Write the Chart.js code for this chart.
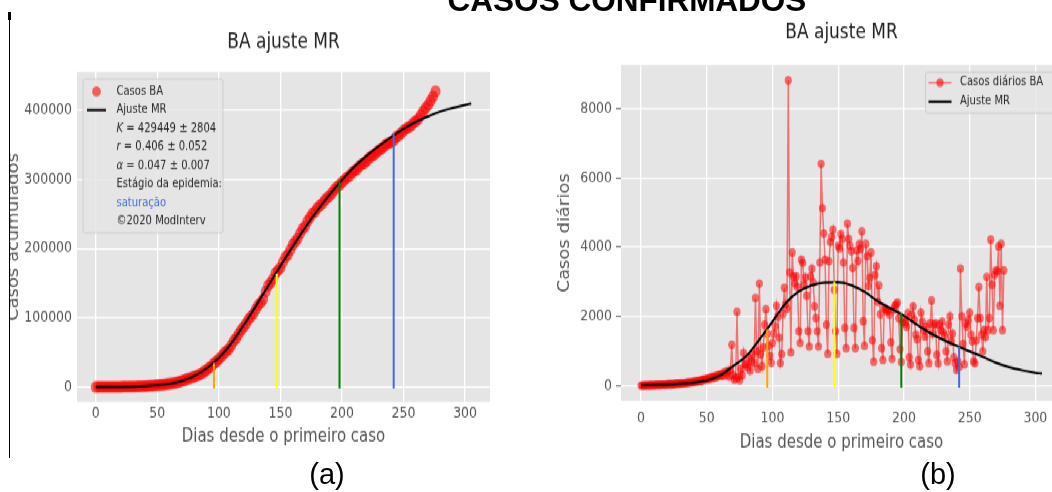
<!DOCTYPE html>
<html>
<head>
<meta charset="utf-8">
<script src="https://cdn.jsdelivr.net/npm/chart.js@4.4.1/dist/chart.umd.min.js"></script>
<style>
  html, body { margin: 0; padding: 0; background: #fff; overflow: hidden; }
  body { width: 1052px; height: 492px; position: relative; }
  /* the source figure is stretched vertically, so the charts are drawn 410px tall and scaled */
  #stage { position: absolute; left: 0; top: 0; width: 1052px; height: 410px; transform: scaleY(1.2); transform-origin: 0 0; }
  #stage canvas { position: absolute; top: 0; }
  #chartA { left: 0; }
  #chartB { left: 530px; }
  .doc { position: absolute; font-family: 'Liberation Sans', Arial, sans-serif; color: #000; white-space: nowrap; transform: translateX(-50%); }
  #heading { left: 627px; top: -15px; font-size: 31.5px; line-height: 31.5px; font-weight: bold; }
  .cap { top: 460px; font-size: 29px; line-height: 29px; }
  #mask { position: absolute; left: 0; top: 0; width: 9px; height: 492px; background: #fff; }
  #rule { position: absolute; left: 9px; top: 12px; width: 1px; height: 446px; background: #000; }
  #ruleTop { position: absolute; left: 8px; top: 12px; width: 3px; height: 8px; background: #000; }
</style>
</head>
<body>
<div id="stage">
  <canvas id="chartA" width="520" height="410"></canvas>
  <canvas id="chartB" width="540" height="410"></canvas>
</div>
<div id="mask"></div>
<div id="rule"></div>
<div id="ruleTop"></div>
<div id="heading" class="doc">CASOS CONFIRMADOS</div>
<div class="doc cap" style="left:327px">(a)</div>
<div class="doc cap" style="left:938px">(b)</div>

<script>
Chart.defaults.font.family = "'DejaVu Sans', sans-serif";
Chart.defaults.color = '#555';
Chart.defaults.animation = false;

// ---- data ----
const xTicks = [0, 50, 100, 150, 200, 250, 300];
const yTicksA = [0, 100000, 200000, 300000, 400000];
const yTicksB = [0, 2000, 4000, 6000, 8000];

// accumulated cases, one reading every 2 days (day 0 .. 276)
const cumStep = 2;
const cumCases = [
    1, 5, 20, 40, 70, 110, 150, 190, 230, 270,
    320, 380, 440, 510, 590, 690, 790, 900, 1030, 1200,
    1400, 1600, 1850, 2100, 2350, 2650, 3000, 3400, 3800, 4250,
    4750, 5300, 5900, 6600, 7400, 8800, 9500, 11800, 12400, 13500,
    15200, 16300, 17800, 19200, 22500, 24500, 28000, 30200, 34500, 36800,
    40500, 44000, 48500, 51500, 54500, 60000, 66500, 70500, 76500, 82000,
    86500, 91500, 97500, 101500, 106000, 112500, 118500, 122000, 127000, 138000,
    146500, 150500, 156000, 164500, 168500, 172000, 180500, 187500, 191000, 198000,
    205500, 210000, 214500, 222000, 228500, 232000, 239500, 245000, 250500, 253000,
    258500, 262000, 265000, 269500, 273500, 276000, 280500, 285000, 289000, 291500,
    295500, 299000, 302500, 304500, 309000, 312000, 314000, 318500, 321500, 323500,
    326500, 330500, 333500, 335000, 338500, 342000, 344000, 347000, 350500, 352000,
    353500, 356000, 361000, 363000, 366500, 370000, 373000, 375000, 377000, 381500,
    384000, 387000, 392500, 398000, 403000, 407500, 413500, 419500, 427000
];

// daily cases, day 0 .. 276
const dailyCases = [
    2, 0, 5, 3, 8, 10, 6, 12, 15, 10,
    18, 14, 20, 25, 16, 22, 30, 28, 24, 35,
    32, 40, 38, 45, 30, 50, 48, 55, 60, 52,
    65, 58, 70, 62, 80, 75, 90, 85, 100, 95,
    110, 120, 105, 130, 140, 125, 160, 150, 180, 170,
    190, 210, 180, 230, 250, 220, 270, 240, 300, 280,
    320, 290, 350, 280, 400, 330, 420, 260, 450, 1180,
    300, 170, 220, 2130, 250, 150, 480, 300, 940, 620,
    600, 520, 800, 430, 700, 900, 650, 2530, 1000, 480,
    2950, 900, 560, 1100, 1760, 2210, 1500, 1150, 860, 660,
    1230, 1500, 1710, 2310, 1990, 1390, 650, 910, 2070, 2830,
    2350, 2220, 8830, 3270, 960, 3850, 3160, 2950, 3160, 2850,
    1570, 1230, 3640, 3550, 2920, 3130, 2600, 1570, 1130, 3160,
    3380, 2980, 2290, 1950, 1570, 1130, 3560, 6410, 5130, 4400,
    3640, 1760, 915, 3590, 4150, 4300, 4510, 2770, 1570, 915,
    4040, 3970, 4380, 4240, 3560, 1670, 1080, 4680, 4240, 4040,
    3890, 3400, 1670, 1080, 3910, 3600, 4090, 3950, 4460, 1860,
    1150, 4100, 3740, 2880, 3120, 3850, 1310, 690, 3200, 3450,
    2420, 2900, 2060, 1080, 740, 2250, 2210, 2150, 2180, 2050,
    1250, 770, 2200, 2300, 2350, 2400, 1950, 1050, 680, 1830,
    1900, 1810, 1700, 2100, 815, 610, 2050, 2290, 1900, 1470,
    1340, 740, 560, 2110, 1850, 1600, 1420, 1700, 990, 645,
    1800, 2460, 1500, 1760, 1800, 890, 645, 1760, 1600, 1850,
    1540, 1450, 990, 700, 1760, 2000, 1280, 1500, 815, 645,
    450, 700, 540, 3380, 2000, 1200, 610, 1800, 1700, 1900,
    2110, 1470, 1280, 700, 640, 1300, 1950, 2850, 1950, 1470,
    990, 1600, 1400, 3140, 1600, 1950, 4220, 2920, 1600, 3200,
    3330, 3300, 4020, 2310, 4100, 1600, 3330
];

// fitted MR curve
const fitDays = [0, 10, 20, 30, 40, 50, 60, 70, 80, 90, 100, 110, 120, 130, 140, 150,
    160, 170, 180, 190, 200, 210, 220, 230, 240, 250, 260, 270, 280, 290, 300, 305];
const fitCum = [0, 100, 300, 700, 1400, 2600, 4700, 8900, 16000, 27000, 42000, 63000, 89000, 117000, 146000, 175000,
    203000, 230000, 255000, 278000, 299000, 318000, 334000, 348000, 361000, 373000, 383000, 391000, 398000, 403000, 407500, 409500];
const fitDaily = [5, 15, 30, 55, 90, 150, 290, 560, 850, 1330, 1850, 2380, 2720, 2900, 2975, 2985,
    2900, 2710, 2440, 2230, 2020, 1760, 1520, 1320, 1150, 990, 830, 660, 530, 440, 370, 345];

// epidemic phase markers
const phaseDays = [96, 147, 198, 242];
const phaseTopA = [35000, 164000, 298000, 366000];
const phaseTopB = [1620, 3000, 2100, 1130];
const phaseBaseA = -2000;
const phaseBaseB = -60;

// ---- styles ----
const phaseColors = ['orange', 'yellow', 'green', 'royalblue'];
const red = 'rgba(255, 0, 0, 0.6)';

const pts = (xs, ys) => xs.map((x, i) => ({ x: x, y: ys[i] }));

const phaseSets = (tops, base) => phaseDays.map((d, i) => ({
    data: [{ x: d, y: base }, { x: d, y: tops[i] }],
    showLine: true,
    borderColor: phaseColors[i],
    borderWidth: 2,
    pointRadius: 0,
    order: 1
}));

const plotBg = {
    id: 'plotBg',
    beforeDraw(chart) {
        const a = chart.chartArea;
        chart.ctx.save();
        chart.ctx.fillStyle = '#e5e5e5';
        chart.ctx.fillRect(a.left, a.top, a.right - a.left, a.bottom - a.top);
        chart.ctx.restore();
    }
};

// legend drawn inside the plot, like matplotlib's
const innerLegend = {
    id: 'innerLegend',
    afterDatasetsDraw(chart, args, o) {
        const { ctx, chartArea } = chart;
        const x0 = chartArea.left + o.dx;
        const y0 = chartArea.top + o.dy;
        ctx.save();
        ctx.fillStyle = 'rgba(229, 229, 229, 0.8)';
        ctx.strokeStyle = 'rgba(200, 200, 200, 0.8)';
        ctx.lineWidth = 1;
        ctx.beginPath();
        ctx.roundRect(x0 + 0.5, y0 + 0.5, o.w, o.h, 2);
        ctx.fill();
        ctx.stroke();
        o.items.forEach((it, i) => {
            const cy = y0 + o.first + i * o.step;
            const hx = x0 + o.handleX;
            if (it.line) {
                ctx.strokeStyle = it.line;
                ctx.lineWidth = it.lw || 2;
                ctx.beginPath();
                ctx.moveTo(hx - o.half, cy);
                ctx.lineTo(hx + o.half, cy);
                ctx.stroke();
            }
            if (it.dot) {
                ctx.fillStyle = it.dot;
                ctx.beginPath();
                ctx.arc(hx, cy, it.r, 0, Math.PI * 2);
                ctx.fill();
            }
            let tx = x0 + o.textX;
            (it.parts || [{ t: it.text }]).forEach(p => {
                ctx.font = (p.it ? 'italic ' : '') + o.size + "px 'DejaVu Sans'";
                ctx.fillStyle = it.color || '#262626';
                ctx.textBaseline = 'middle';
                ctx.fillText(p.t, tx, cy);
                tx += ctx.measureText(p.t).width;
            });
        });
        ctx.restore();
    }
};

function scales(o) {
    return {
        x: {
            type: 'linear',
            min: -15.25,
            max: 320.25,
            afterBuildTicks: s => { s.ticks = xTicks.map(v => ({ value: v })); },
            afterFit: s => { s.height = o.xh; },
            ticks: { font: { size: 12.5 }, color: '#555', padding: o.xpad, maxRotation: 0, autoSkip: false, callback: v => String(v) },
            grid: { color: '#fff', lineWidth: 1.3, drawTicks: false },
            border: { display: false },
            title: { display: true, text: 'Dias desde o primeiro caso', font: { size: 15 }, color: '#555', padding: 0 }
        },
        y: {
            type: 'linear',
            min: o.ymin,
            max: o.ymax,
            afterBuildTicks: s => { s.ticks = o.yTicks.map(v => ({ value: v })); },
            afterFit: s => { s.width = o.yw; },
            ticks: { font: { size: 12.5 }, color: '#555', padding: o.ypad, autoSkip: false, callback: v => String(v) },
            grid: { color: '#fff', lineWidth: 1.3, drawTicks: o.yTickLen > 0, tickLength: o.yTickLen, tickColor: '#555', tickWidth: 1 },
            border: { display: false },
            title: { display: true, text: o.yTitle, font: { size: 15 }, color: '#555', padding: { top: o.yTitlePad, bottom: 0 } }
        }
    };
}

new Chart(document.getElementById('chartA'), {
    type: 'scatter',
    data: {
        datasets: [
            {
                label: 'Casos BA',
                data: cumCases.map((v, i) => ({ x: i * cumStep, y: v })),
                backgroundColor: red,
                borderWidth: 0,
                pointRadius: 5,
                order: 3
            },
            {
                label: 'Ajuste MR',
                data: pts(fitDays, fitCum),
                showLine: true,
                borderColor: '#000',
                borderWidth: 2,
                pointRadius: 0,
                cubicInterpolationMode: 'monotone',
                order: 2
            },
            ...phaseSets(phaseTopA, phaseBaseA)
        ]
    },
    options: {
        responsive: false,
        layout: { padding: { left: 0, right: 30, top: 0, bottom: 37 } },
        scales: scales({ xh: 38, xpad: 2.5, ymin: -21500, ymax: 455000, yTicks: yTicksA, yw: 77, ypad: 5, yTickLen: 0,
            yTitle: 'Casos acumulados', yTitlePad: 5 }),
        plugins: {
            legend: { display: false },
            tooltip: { enabled: false },
            title: { display: true, text: 'BA ajuste MR', fullSize: false, font: { size: 17, weight: 'normal' }, color: '#222',
                padding: { top: 25.2, bottom: 14.4 } },
            innerLegend: {
                dx: 5.5, dy: 5.5, w: 140, h: 128, first: 10.7, step: 15.5, handleX: 14, half: 9.5, textX: 34, size: 10,
                items: [
                    { dot: red, r: 4.3, text: 'Casos BA' },
                    { line: '#000', text: 'Ajuste MR' },
                    { parts: [{ t: 'K', it: true }, { t: ' = 429449 ± 2804' }] },
                    { parts: [{ t: 'r', it: true }, { t: ' = 0.406 ± 0.052' }] },
                    { parts: [{ t: 'α', it: true }, { t: ' = 0.047 ± 0.007' }] },
                    { text: 'Estágio da epidemia:' },
                    { text: 'saturação', color: '#4169e1' },
                    { text: '©2020 ModInterv' }
                ]
            }
        }
    },
    plugins: [plotBg, innerLegend]
});

new Chart(document.getElementById('chartB'), {
    type: 'scatter',
    data: {
        datasets: [
            {
                label: 'Casos diários BA',
                data: dailyCases.map((v, day) => ({ x: day, y: v })),
                showLine: true,
                borderColor: 'rgba(255, 0, 0, 0.5)',
                borderWidth: 1.5,
                pointBackgroundColor: 'rgba(255, 0, 0, 0.55)',
                pointBorderWidth: 0,
                pointRadius: 3.6,
                order: 3
            },
            {
                label: 'Ajuste MR',
                data: pts(fitDays, fitDaily),
                showLine: true,
                borderColor: '#000',
                borderWidth: 2,
                pointRadius: 0,
                cubicInterpolationMode: 'monotone',
                order: 2
            },
            ...phaseSets(phaseTopB, phaseBaseB)
        ]
    },
    options: {
        responsive: false,
        layout: { padding: { left: 0, right: 8, top: 0, bottom: 32 } },
        scales: scales({ xh: 44, xpad: 7.5, ymin: -441, ymax: 9271, yTicks: yTicksB, yw: 91, ypad: 4, yTickLen: 5,
            yTitle: 'Casos diários', yTitlePad: 26 }),
        plugins: {
            legend: { display: false },
            tooltip: { enabled: false },
            title: { display: true, text: 'BA ajuste MR', fullSize: false, font: { size: 17, weight: 'normal' }, color: '#222',
                padding: { top: 16.9, bottom: 16.9 } },
            innerLegend: {
                dx: 304, dy: 5.5, w: 135, h: 34, first: 9.2, step: 15.8, handleX: 15, half: 11.5, textX: 35, size: 10,
                items: [
                    { line: 'rgba(255, 0, 0, 0.5)', lw: 1.5, dot: 'rgba(255, 0, 0, 0.6)', r: 3.6, text: 'Casos diários BA' },
                    { line: '#000', text: 'Ajuste MR' }
                ]
            }
        }
    },
    plugins: [plotBg, innerLegend]
});
</script>
</body>
</html>
